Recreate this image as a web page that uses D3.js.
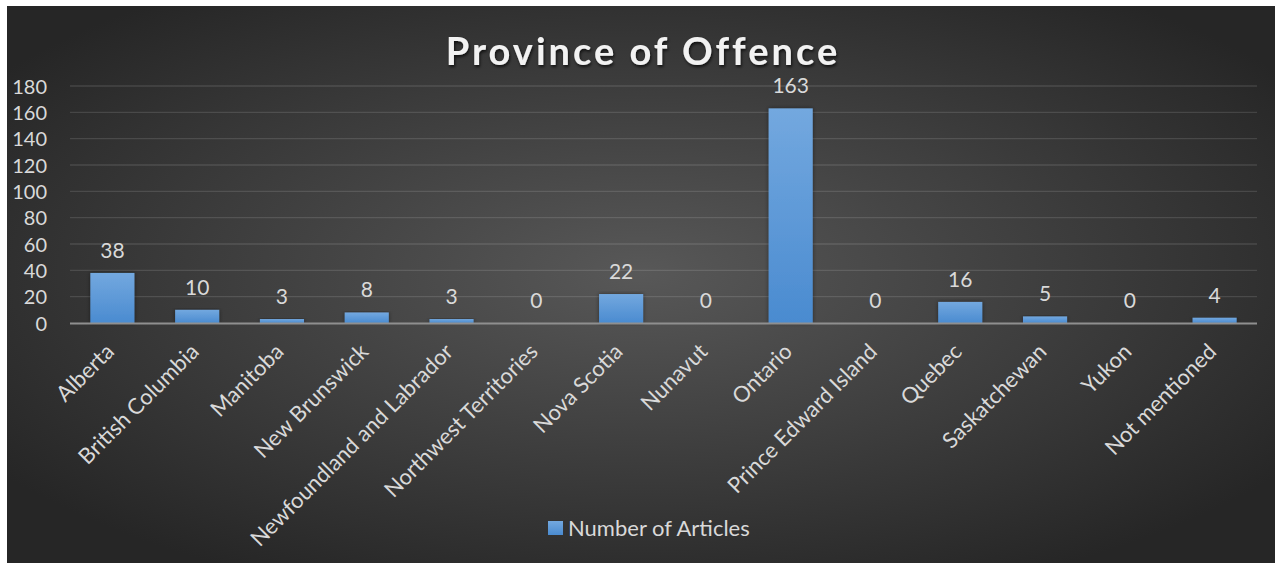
<!DOCTYPE html>
<html>
<head>
<meta charset="utf-8">
<script src="https://cdn.jsdelivr.net/npm/d3@7"></script>
<style>
  html, body { margin: 0; padding: 0; background: #ffffff; }
  svg { display: block; }
</style>
</head>
<body>
<svg id="chart" width="1281" height="565"></svg>
<script>
// Chart data
const provinces = ["Alberta", "British Columbia", "Manitoba", "New Brunswick",
  "Newfoundland and Labrador", "Northwest Territories", "Nova Scotia", "Nunavut",
  "Ontario", "Prince Edward Island", "Quebec", "Saskatchewan", "Yukon", "Not mentioned"];
const articleCounts = [38, 10, 3, 8, 3, 0, 22, 0, 163, 0, 16, 5, 0, 4];
const yTicks = [0, 20, 40, 60, 80, 100, 120, 140, 160, 180];
const seriesName = "Number of Articles";
const chartTitle = "Province of Offence";

const svg = d3.select("#chart");
const font = "Lato, 'Open Sans', sans-serif";

const defs = svg.append("defs");
const bg = defs.append("radialGradient").attr("id", "bgGrad")
  .attr("cx", "50%").attr("cy", "48%").attr("r", "62%");
bg.append("stop").attr("offset", "0%").attr("stop-color", "#585858");
bg.append("stop").attr("offset", "100%").attr("stop-color", "#262626");

const barGrad = defs.append("linearGradient").attr("id", "barGrad")
  .attr("x1", 0).attr("y1", 0).attr("x2", 0).attr("y2", 1);
barGrad.append("stop").attr("offset", "0%").attr("stop-color", "#73a8df");
barGrad.append("stop").attr("offset", "100%").attr("stop-color", "#4a8bd0");

const shadow = defs.append("filter").attr("id", "txtShadow")
  .attr("x", "-10%").attr("y", "-30%").attr("width", "120%").attr("height", "160%");
shadow.append("feDropShadow").attr("dx", 1).attr("dy", 2).attr("stdDeviation", 1.5)
  .attr("flood-color", "#000").attr("flood-opacity", 0.7);

const barShadow = defs.append("filter").attr("id", "barShadow")
  .attr("x", "-20%").attr("y", "-10%").attr("width", "140%").attr("height", "120%");
barShadow.append("feDropShadow").attr("dx", 0).attr("dy", 0).attr("stdDeviation", 2)
  .attr("flood-color", "#000").attr("flood-opacity", 0.45);

// Chart background panel
svg.append("rect").attr("x", 7).attr("y", 6).attr("width", 1268).attr("height", 557)
  .attr("fill", "url(#bgGrad)");

// Plot area
const plot = { left: 70, right: 1257, top: 86, bottom: 323 };

const x = d3.scaleBand().domain(provinces)
  .range([plot.left, plot.right]).paddingInner(0.48).paddingOuter(0.24);
const y = d3.scaleLinear().domain([0, 180]).range([plot.bottom, plot.top]);

// Horizontal gridlines
svg.append("g").selectAll("line").data(yTicks.filter(d => d > 0)).join("line")
  .attr("x1", plot.left).attr("x2", plot.right)
  .attr("y1", d => y(d)).attr("y2", d => y(d))
  .attr("stroke", "#ffffff").attr("stroke-opacity", 0.12).attr("stroke-width", 1.3);

// Y axis labels
const yAxis = d3.axisLeft(y).tickValues(yTicks).tickSize(0).tickPadding(0);
const yg = svg.append("g").attr("transform", `translate(47,0)`).call(yAxis);
yg.select(".domain").remove();
yg.selectAll("text").attr("fill", "#d9d9d9").attr("font-family", font)
  .attr("font-size", 20).attr("dy", "0.36em");

// Bars
svg.append("g").selectAll("rect").data(provinces).join("rect")
  .attr("x", d => x(d)).attr("width", x.bandwidth())
  .attr("y", (d, i) => y(articleCounts[i]))
  .attr("height", (d, i) => y(0) - y(articleCounts[i]))
  .attr("fill", "url(#barGrad)")
  .attr("filter", "url(#barShadow)");

// Category axis line
svg.append("line").attr("x1", plot.left).attr("x2", plot.right)
  .attr("y1", y(0) + 0.5).attr("y2", y(0) + 0.5)
  .attr("stroke", "#8f8f8f").attr("stroke-width", 2.2);

// Value labels
svg.append("g").selectAll("text").data(provinces).join("text")
  .attr("x", d => x(d) + x.bandwidth() / 2)
  .attr("y", (d, i) => y(articleCounts[i]) - 15)
  .attr("text-anchor", "middle")
  .attr("fill", "#d9d9d9").attr("font-family", font).attr("font-size", 21)
  .text((d, i) => articleCounts[i]);

// Rotated category labels
svg.append("g").selectAll("text").data(provinces).join("text")
  .attr("transform", d => `translate(${x(d) + x.bandwidth() / 2 + 3},${plot.bottom + 30}) rotate(-45)`)
  .attr("text-anchor", "end")
  .attr("fill", "#d9d9d9").attr("font-family", font).attr("font-size", 22)
  .text(d => d);

// Title
svg.append("text").attr("x", 643).attr("y", 65).attr("text-anchor", "middle")
  .attr("fill", "#f2f2f2").attr("font-family", font).attr("font-weight", "bold")
  .attr("font-size", 38).attr("letter-spacing", 3)
  .attr("filter", "url(#txtShadow)")
  .text(chartTitle);

// Legend
const lg = svg.append("g").attr("transform", "translate(548,521)");
lg.append("rect").attr("width", 15).attr("height", 14).attr("fill", "url(#barGrad)");
lg.append("text").attr("x", 20).attr("y", 7).attr("dy", "0.36em")
  .attr("fill", "#d9d9d9").attr("font-family", font).attr("font-size", 22)
  .text(seriesName);
</script>
</body>
</html>
